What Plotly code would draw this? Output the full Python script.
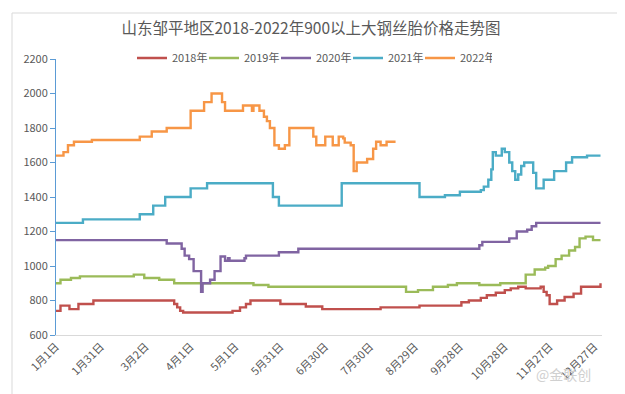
import plotly.graph_objects as go

# ---- data (day of year index, price) : change points ----
tick_days = [0, 30, 60, 90, 120, 150, 180, 210, 240, 270, 300, 330, 360]
tick_labels = ["1月1日", "1月31日", "3月2日", "4月1日", "5月1日", "5月31日", "6月30日",
               "7月30日", "8月29日", "9月28日", "10月28日", "11月27日", "12月27日"]

y2018_day = [0, 3, 9, 15, 25, 79, 81, 83, 85, 118, 123, 127, 130, 150, 167, 178, 217, 243,
             271, 276, 284, 288, 294, 300, 304, 309, 314, 324, 326, 328, 330, 335, 340, 346,
             351, 364]
y2018_val = [740, 770, 750, 780, 800, 780, 760, 740, 730, 740, 760, 780, 800, 780, 765, 750,
             760, 770, 790, 800, 815, 830, 845, 860, 870, 880, 870, 880, 850, 830, 780, 800,
             820, 840, 880, 900]

y2019_day = [0, 3, 10, 16, 52, 59, 69, 79, 132, 142, 234, 242, 252, 262, 268, 283, 297, 314,
             320, 327, 329, 334, 338, 343, 347, 350, 354, 359, 364]
y2019_val = [900, 920, 930, 940, 950, 930, 920, 900, 890, 880, 850, 860, 880, 890, 900, 890,
             900, 950, 980, 990, 1000, 1040, 1060, 1090, 1110, 1160, 1170, 1150, 1150]

y2020_day = [0, 74, 84, 86, 89, 92, 97, 98, 103, 106, 110, 113, 115, 116, 126, 127, 149, 162,
             283, 285, 303, 308, 315, 318, 321, 364]
y2020_val = [1150, 1130, 1100, 1060, 1040, 970, 850, 900, 920, 970, 1055, 1030, 1045, 1030,
             1045, 1060, 1080, 1100, 1120, 1140, 1160, 1200, 1210, 1230, 1250, 1250]

y2021_day = [0, 18, 56, 65, 73, 90, 101, 145, 149, 191, 243, 260, 270, 284, 286, 289, 291,
             292, 294, 298, 300, 303, 305, 307, 309, 311, 313, 319, 321, 326, 333, 341, 345,
             355, 364]
y2021_val = [1250, 1270, 1300, 1350, 1400, 1450, 1480, 1400, 1350, 1480, 1400, 1410, 1430,
             1440, 1460, 1500, 1560, 1660, 1640, 1680, 1660, 1600, 1550, 1500, 1530, 1580,
             1600, 1540, 1450, 1500, 1550, 1600, 1630, 1640, 1640]

y2022_day = [0, 5, 8, 12, 24, 56, 64, 74, 90, 99, 104, 111, 113, 125, 131, 132, 136, 139,
             141, 143, 146, 149, 153, 156, 172, 174, 180, 185, 189, 192, 193, 197, 199, 201,
             208, 212, 214, 217, 221, 227]
y2022_val = [1640, 1660, 1700, 1720, 1730, 1750, 1780, 1800, 1900, 1950, 2000, 1950, 1900,
             1930, 1900, 1930, 1900, 1865, 1840, 1800, 1700, 1680, 1700, 1800, 1750, 1700,
             1750, 1700, 1750, 1740, 1715, 1700, 1550, 1600, 1620, 1680, 1720, 1700, 1720,
             1720]

series = [
    ("2018年", y2018_day, y2018_val, "#C0504D"),
    ("2019年", y2019_day, y2019_val, "#9BBB59"),
    ("2020年", y2020_day, y2020_val, "#8064A2"),
    ("2021年", y2021_day, y2021_val, "#4BACC6"),
    ("2022年", y2022_day, y2022_val, "#F79646"),
]

FONT = "Noto Sans CJK SC, Microsoft YaHei, sans-serif"
GREY = "#595959"

fig = go.Figure()
for name, d, v, c in series:
    fig.add_trace(go.Scatter(x=d, y=v, name=name, mode="lines", line_shape="hv",
                             line=dict(color=c, width=2.4)))

fig.update_layout(
    width=625, height=394,
    margin=dict(l=48, r=31, t=51, b=67),
    paper_bgcolor="white", plot_bgcolor="white",
    font=dict(family=FONT, size=11, color=GREY),
    title=dict(text="山东邹平地区2018-2022年900以上大钢丝胎价格走势图",
               x=303 / 625, xanchor="center", y=1 - 21 / 394, yanchor="middle",
               font=dict(size=15.5, color=GREY, family=FONT)),
    legend=dict(orientation="h", x=(124 - 48) / 546, xanchor="left",
                y=(327 - 50) / 276, yanchor="middle",
                font=dict(size=11, color=GREY), bgcolor="rgba(0,0,0,0)",
                entrywidth=27, itemwidth=30, tracegroupgap=0),
    showlegend=True,
)
fig.update_xaxes(range=[0, 365], tickmode="array", tickvals=tick_days, ticktext=tick_labels,
                 tickangle=-45, showgrid=False, zeroline=False, showline=True,
                 linecolor="#D9D9D9", linewidth=1, ticks="", tickfont=dict(size=11, color=GREY))
fig.update_yaxes(range=[600, 2200], dtick=200, showgrid=False, zeroline=False, showline=True,
                 linecolor="#5B9BD5", linewidth=1, ticks="outside", ticklen=5,
                 tickcolor="#5B9BD5", tickfont=dict(size=11, color=GREY))

# outer chart frame
fig.add_shape(type="rect", xref="paper", yref="paper",
              x0=(4 - 48) / 546, x1=(613 - 48) / 546, y0=(327 - 392) / 276, y1=(327 - 5) / 276,
              line=dict(color="#D9D9D9", width=1), fillcolor="rgba(0,0,0,0)", layer="below")

# watermark
fig.add_annotation(text="@金联创", xref="paper", yref="paper", x=(585 - 48) / 546,
                   y=(327 - 378) / 276, showarrow=False,
                   font=dict(size=14, color="#D0D0D0", family=FONT))

fig.write_html("out.html")
